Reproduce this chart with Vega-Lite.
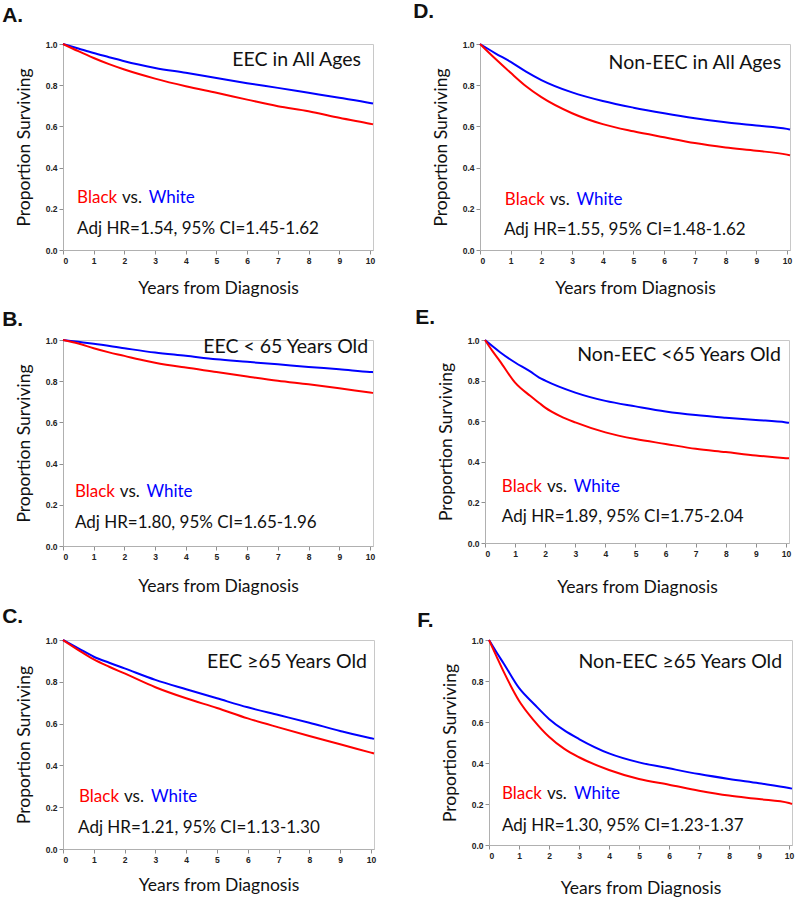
{
  "$schema": "https://vega.github.io/schema/vega-lite/v6.json",
  "padding": {"left": 1, "top": 0, "right": 2, "bottom": 0},
  "datasets": {
    "km": [
      {"panel":"A","group":"White","year":0,"surv":1},{"panel":"A","group":"White","year":0.5,"surv":0.978},{"panel":"A","group":"White","year":1,"surv":0.956},{"panel":"A","group":"White","year":1.5,"surv":0.936},{"panel":"A","group":"White","year":2,"surv":0.916},{"panel":"A","group":"White","year":3,"surv":0.884},{"panel":"A","group":"White","year":4,"surv":0.86},{"panel":"A","group":"White","year":5,"surv":0.835},{"panel":"A","group":"White","year":6,"surv":0.81},{"panel":"A","group":"White","year":7,"surv":0.787},{"panel":"A","group":"White","year":8,"surv":0.763},{"panel":"A","group":"White","year":9,"surv":0.739},{"panel":"A","group":"White","year":10,"surv":0.714},{"panel":"A","group":"White","year":10.1,"surv":0.711},
      {"panel":"A","group":"Black","year":0,"surv":1},{"panel":"A","group":"Black","year":0.5,"surv":0.965},{"panel":"A","group":"Black","year":1,"surv":0.932},{"panel":"A","group":"Black","year":1.5,"surv":0.902},{"panel":"A","group":"Black","year":2,"surv":0.876},{"panel":"A","group":"Black","year":3,"surv":0.832},{"panel":"A","group":"Black","year":4,"surv":0.795},{"panel":"A","group":"Black","year":5,"surv":0.763},{"panel":"A","group":"Black","year":6,"surv":0.73},{"panel":"A","group":"Black","year":7,"surv":0.698},{"panel":"A","group":"Black","year":8,"surv":0.674},{"panel":"A","group":"Black","year":9,"surv":0.642},{"panel":"A","group":"Black","year":10,"surv":0.613},{"panel":"A","group":"Black","year":10.1,"surv":0.61},
      {"panel":"B","group":"White","year":0,"surv":1},{"panel":"B","group":"White","year":0.5,"surv":0.991},{"panel":"B","group":"White","year":1,"surv":0.982},{"panel":"B","group":"White","year":2,"surv":0.96},{"panel":"B","group":"White","year":3,"surv":0.939},{"panel":"B","group":"White","year":4,"surv":0.923},{"panel":"B","group":"White","year":5,"surv":0.906},{"panel":"B","group":"White","year":6,"surv":0.894},{"panel":"B","group":"White","year":7,"surv":0.882},{"panel":"B","group":"White","year":8,"surv":0.869},{"panel":"B","group":"White","year":9,"surv":0.858},{"panel":"B","group":"White","year":10,"surv":0.845},{"panel":"B","group":"White","year":10.1,"surv":0.844},
      {"panel":"B","group":"Black","year":0,"surv":1},{"panel":"B","group":"Black","year":0.5,"surv":0.983},{"panel":"B","group":"Black","year":1,"surv":0.96},{"panel":"B","group":"Black","year":1.5,"surv":0.94},{"panel":"B","group":"Black","year":2,"surv":0.923},{"panel":"B","group":"Black","year":2.5,"surv":0.905},{"panel":"B","group":"Black","year":3,"surv":0.89},{"panel":"B","group":"Black","year":4,"surv":0.866},{"panel":"B","group":"Black","year":5,"surv":0.845},{"panel":"B","group":"Black","year":6,"surv":0.823},{"panel":"B","group":"Black","year":7,"surv":0.802},{"panel":"B","group":"Black","year":8,"surv":0.785},{"panel":"B","group":"Black","year":9,"surv":0.766},{"panel":"B","group":"Black","year":10,"surv":0.745},{"panel":"B","group":"Black","year":10.1,"surv":0.743},
      {"panel":"C","group":"White","year":0,"surv":1},{"panel":"C","group":"White","year":0.5,"surv":0.96},{"panel":"C","group":"White","year":1,"surv":0.92},{"panel":"C","group":"White","year":1.5,"surv":0.891},{"panel":"C","group":"White","year":2,"surv":0.864},{"panel":"C","group":"White","year":3,"surv":0.809},{"panel":"C","group":"White","year":4,"surv":0.764},{"panel":"C","group":"White","year":5,"surv":0.721},{"panel":"C","group":"White","year":6,"surv":0.678},{"panel":"C","group":"White","year":7,"surv":0.641},{"panel":"C","group":"White","year":8,"surv":0.604},{"panel":"C","group":"White","year":9,"surv":0.565},{"panel":"C","group":"White","year":10,"surv":0.53},{"panel":"C","group":"White","year":10.1,"surv":0.527},
      {"panel":"C","group":"Black","year":0,"surv":1},{"panel":"C","group":"Black","year":0.5,"surv":0.952},{"panel":"C","group":"Black","year":1,"surv":0.907},{"panel":"C","group":"Black","year":1.5,"surv":0.872},{"panel":"C","group":"Black","year":2,"surv":0.84},{"panel":"C","group":"Black","year":3,"surv":0.774},{"panel":"C","group":"Black","year":4,"surv":0.721},{"panel":"C","group":"Black","year":5,"surv":0.675},{"panel":"C","group":"Black","year":6,"surv":0.625},{"panel":"C","group":"Black","year":7,"surv":0.582},{"panel":"C","group":"Black","year":8,"surv":0.541},{"panel":"C","group":"Black","year":9,"surv":0.501},{"panel":"C","group":"Black","year":10,"surv":0.461},{"panel":"C","group":"Black","year":10.1,"surv":0.457},
      {"panel":"D","group":"White","year":0,"surv":1},{"panel":"D","group":"White","year":0.5,"surv":0.955},{"panel":"D","group":"White","year":1,"surv":0.913},{"panel":"D","group":"White","year":1.5,"surv":0.866},{"panel":"D","group":"White","year":2,"surv":0.825},{"panel":"D","group":"White","year":3,"surv":0.765},{"panel":"D","group":"White","year":4,"surv":0.723},{"panel":"D","group":"White","year":5,"surv":0.691},{"panel":"D","group":"White","year":6,"surv":0.664},{"panel":"D","group":"White","year":7,"surv":0.64},{"panel":"D","group":"White","year":8,"surv":0.62},{"panel":"D","group":"White","year":9,"surv":0.604},{"panel":"D","group":"White","year":10,"surv":0.588},{"panel":"D","group":"White","year":10.1,"surv":0.585},
      {"panel":"D","group":"Black","year":0,"surv":1},{"panel":"D","group":"Black","year":0.5,"surv":0.928},{"panel":"D","group":"Black","year":1,"surv":0.86},{"panel":"D","group":"Black","year":1.5,"surv":0.795},{"panel":"D","group":"Black","year":2,"surv":0.742},{"panel":"D","group":"Black","year":3,"surv":0.664},{"panel":"D","group":"Black","year":4,"surv":0.611},{"panel":"D","group":"Black","year":5,"surv":0.576},{"panel":"D","group":"Black","year":6,"surv":0.547},{"panel":"D","group":"Black","year":7,"surv":0.519},{"panel":"D","group":"Black","year":8,"surv":0.498},{"panel":"D","group":"Black","year":9,"surv":0.482},{"panel":"D","group":"Black","year":10,"surv":0.463},{"panel":"D","group":"Black","year":10.1,"surv":0.46},
      {"panel":"E","group":"White","year":0,"surv":1},{"panel":"E","group":"White","year":0.5,"surv":0.94},{"panel":"E","group":"White","year":1,"surv":0.889},{"panel":"E","group":"White","year":1.5,"surv":0.845},{"panel":"E","group":"White","year":1.8,"surv":0.815},{"panel":"E","group":"White","year":2,"surv":0.8},{"panel":"E","group":"White","year":3,"surv":0.741},{"panel":"E","group":"White","year":4,"surv":0.7},{"panel":"E","group":"White","year":5,"surv":0.673},{"panel":"E","group":"White","year":6,"surv":0.648},{"panel":"E","group":"White","year":7,"surv":0.63},{"panel":"E","group":"White","year":8,"surv":0.617},{"panel":"E","group":"White","year":9,"surv":0.606},{"panel":"E","group":"White","year":10,"surv":0.594},{"panel":"E","group":"White","year":10.1,"surv":0.592},
      {"panel":"E","group":"Black","year":0,"surv":1},{"panel":"E","group":"Black","year":0.25,"surv":0.945},{"panel":"E","group":"Black","year":0.5,"surv":0.895},{"panel":"E","group":"Black","year":1,"surv":0.79},{"panel":"E","group":"Black","year":1.5,"surv":0.725},{"panel":"E","group":"Black","year":1.8,"surv":0.69},{"panel":"E","group":"Black","year":2,"surv":0.667},{"panel":"E","group":"Black","year":2.5,"surv":0.625},{"panel":"E","group":"Black","year":3,"surv":0.594},{"panel":"E","group":"Black","year":4,"surv":0.545},{"panel":"E","group":"Black","year":5,"surv":0.512},{"panel":"E","group":"Black","year":6,"surv":0.488},{"panel":"E","group":"Black","year":7,"surv":0.464},{"panel":"E","group":"Black","year":8,"surv":0.448},{"panel":"E","group":"Black","year":9,"surv":0.431},{"panel":"E","group":"Black","year":10,"surv":0.418},{"panel":"E","group":"Black","year":10.1,"surv":0.417},
      {"panel":"F","group":"White","year":0,"surv":1},{"panel":"F","group":"White","year":0.25,"surv":0.94},{"panel":"F","group":"White","year":0.5,"surv":0.883},{"panel":"F","group":"White","year":1,"surv":0.766},{"panel":"F","group":"White","year":1.5,"surv":0.688},{"panel":"F","group":"White","year":2,"surv":0.615},{"panel":"F","group":"White","year":2.5,"surv":0.56},{"panel":"F","group":"White","year":3,"surv":0.517},{"panel":"F","group":"White","year":4,"surv":0.447},{"panel":"F","group":"White","year":5,"surv":0.403},{"panel":"F","group":"White","year":6,"surv":0.374},{"panel":"F","group":"White","year":7,"surv":0.346},{"panel":"F","group":"White","year":8,"surv":0.322},{"panel":"F","group":"White","year":9,"surv":0.301},{"panel":"F","group":"White","year":10,"surv":0.278},{"panel":"F","group":"White","year":10.1,"surv":0.275},
      {"panel":"F","group":"Black","year":0,"surv":1},{"panel":"F","group":"Black","year":0.25,"surv":0.92},{"panel":"F","group":"Black","year":0.5,"surv":0.842},{"panel":"F","group":"Black","year":1,"surv":0.704},{"panel":"F","group":"Black","year":1.5,"surv":0.607},{"panel":"F","group":"Black","year":2,"surv":0.528},{"panel":"F","group":"Black","year":2.5,"surv":0.47},{"panel":"F","group":"Black","year":3,"surv":0.428},{"panel":"F","group":"Black","year":4,"surv":0.366},{"panel":"F","group":"Black","year":5,"surv":0.322},{"panel":"F","group":"Black","year":6,"surv":0.294},{"panel":"F","group":"Black","year":7,"surv":0.265},{"panel":"F","group":"Black","year":8,"surv":0.241},{"panel":"F","group":"Black","year":9,"surv":0.224},{"panel":"F","group":"Black","year":10,"surv":0.205},{"panel":"F","group":"Black","year":10.1,"surv":0.2}
    ],
    "notes": [
      {"panel":"A","title":"EEC in All Ages","hr":"Adj HR=1.54, 95% CI=1.45-1.62"},
      {"panel":"B","title":"EEC < 65 Years  Old","hr":"Adj HR=1.80, 95% CI=1.65-1.96"},
      {"panel":"C","title":"EEC ≥65 Years  Old","hr":"Adj HR=1.21, 95% CI=1.13-1.30"},
      {"panel":"D","title":"Non-EEC  in All Ages","hr":"Adj HR=1.55, 95% CI=1.48-1.62"},
      {"panel":"E","title":"Non-EEC <65 Years  Old","hr":"Adj HR=1.89, 95% CI=1.75-2.04"},
      {"panel":"F","title":"Non-EEC ≥65 Years  Old","hr":"Adj HR=1.30, 95% CI=1.23-1.37"}
    ]
  },
  "vconcat": [
    {"hconcat": [
      {"width": 310, "height": 206,
       "title": {"text": "A.", "anchor": "start", "frame": "bounds", "dx": -13, "offset": 14},
       "layer": [
        {"data": {"name": "km"}, "transform": [{"filter": "datum.panel === 'A'"}],
         "mark": {"type": "line", "strokeWidth": 2, "interpolate": "monotone"},
         "encoding": {
           "x": {"field": "year", "type": "quantitative", "scale": {"domain": [0, 10.1], "nice": false}, "axis": {"title": "Years from Diagnosis", "values": [0,1,2,3,4,5,6,7,8,9,10], "format": "d", "labelOverlap": false, "titlePadding": 15}},
           "y": {"field": "surv", "type": "quantitative", "scale": {"domain": [0, 1], "nice": false}, "axis": {"title": "Proportion Surviving", "values": [0,0.2,0.4,0.6,0.8,1], "format": ".1f", "labelOverlap": false}},
           "color": {"field": "group", "type": "nominal", "scale": {"domain": ["Black","White"], "range": ["#ff0000","#0000ff"]}, "legend": null}}},
        {"data": {"name": "notes"}, "transform": [{"filter": "datum.panel === 'A'"}],
         "mark": {"type": "text", "align": "right", "baseline": "alphabetic", "fontSize": 19.5, "font": "Lato", "color": "#111"},
         "encoding": {"x": {"datum": 9.71, "type": "quantitative", "axis": {"title": "Years from Diagnosis", "values": [0,1,2,3,4,5,6,7,8,9,10], "format": "d", "labelOverlap": false, "titlePadding": 15}}, "y": {"datum": 0.893, "type": "quantitative", "axis": {"title": "Proportion Surviving", "values": [0,0.2,0.4,0.6,0.8,1], "format": ".1f", "labelOverlap": false}}, "text": {"field": "title"}}},
        {"data": {"name": "notes"}, "transform": [{"filter": "datum.panel === 'A'"}],
         "mark": {"type": "text", "align": "left", "baseline": "alphabetic", "fontSize": 17, "font": "Lato", "color": "#111"},
         "encoding": {"x": {"datum": 0.46, "type": "quantitative", "axis": {"title": "Years from Diagnosis", "values": [0,1,2,3,4,5,6,7,8,9,10], "format": "d", "labelOverlap": false, "titlePadding": 15}}, "y": {"datum": 0.078, "type": "quantitative", "axis": {"title": "Proportion Surviving", "values": [0,0.2,0.4,0.6,0.8,1], "format": ".1f", "labelOverlap": false}}, "text": {"field": "hr"}}},
        {"data": {"name": "notes"}, "transform": [{"filter": "datum.panel === 'A'"}],
         "mark": {"type": "text", "align": "left", "baseline": "alphabetic", "fontSize": 17, "font": "Lato", "color": "#ff0000", "text": "Black"},
         "encoding": {"x": {"datum": 0.46, "type": "quantitative", "axis": {"title": "Years from Diagnosis", "values": [0,1,2,3,4,5,6,7,8,9,10], "format": "d", "labelOverlap": false, "titlePadding": 15}}, "y": {"datum": 0.228, "type": "quantitative", "axis": {"title": "Proportion Surviving", "values": [0,0.2,0.4,0.6,0.8,1], "format": ".1f", "labelOverlap": false}}}},
        {"data": {"name": "notes"}, "transform": [{"filter": "datum.panel === 'A'"}],
         "mark": {"type": "text", "align": "left", "baseline": "alphabetic", "fontSize": 17, "font": "Lato", "color": "#111", "text": "vs."},
         "encoding": {"x": {"datum": 1.92, "type": "quantitative", "axis": {"title": "Years from Diagnosis", "values": [0,1,2,3,4,5,6,7,8,9,10], "format": "d", "labelOverlap": false, "titlePadding": 15}}, "y": {"datum": 0.228, "type": "quantitative", "axis": {"title": "Proportion Surviving", "values": [0,0.2,0.4,0.6,0.8,1], "format": ".1f", "labelOverlap": false}}}},
        {"data": {"name": "notes"}, "transform": [{"filter": "datum.panel === 'A'"}],
         "mark": {"type": "text", "align": "left", "baseline": "alphabetic", "fontSize": 17, "font": "Lato", "color": "#0000ff", "text": "White"},
         "encoding": {"x": {"datum": 2.79, "type": "quantitative", "axis": {"title": "Years from Diagnosis", "values": [0,1,2,3,4,5,6,7,8,9,10], "format": "d", "labelOverlap": false, "titlePadding": 15}}, "y": {"datum": 0.228, "type": "quantitative", "axis": {"title": "Proportion Surviving", "values": [0,0.2,0.4,0.6,0.8,1], "format": ".1f", "labelOverlap": false}}}}
       ]},
      {"width": 310, "height": 206,
       "title": {"text": "D.", "anchor": "start", "frame": "bounds", "dx": -19, "offset": 18},
       "layer": [
        {"data": {"name": "km"}, "transform": [{"filter": "datum.panel === 'D'"}],
         "mark": {"type": "line", "strokeWidth": 2, "interpolate": "monotone"},
         "encoding": {
           "x": {"field": "year", "type": "quantitative", "scale": {"domain": [0, 10.1], "nice": false}, "axis": {"title": "Years from Diagnosis", "values": [0,1,2,3,4,5,6,7,8,9,10], "format": "d", "labelOverlap": false, "titlePadding": 15}},
           "y": {"field": "surv", "type": "quantitative", "scale": {"domain": [0, 1], "nice": false}, "axis": {"title": "Proportion Surviving", "values": [0,0.2,0.4,0.6,0.8,1], "format": ".1f", "labelOverlap": false}},
           "color": {"field": "group", "type": "nominal", "scale": {"domain": ["Black","White"], "range": ["#ff0000","#0000ff"]}, "legend": null}}},
        {"data": {"name": "notes"}, "transform": [{"filter": "datum.panel === 'D'"}],
         "mark": {"type": "text", "align": "right", "baseline": "alphabetic", "fontSize": 19.5, "font": "Lato", "color": "#111"},
         "encoding": {"x": {"datum": 9.81, "type": "quantitative", "axis": {"title": "Years from Diagnosis", "values": [0,1,2,3,4,5,6,7,8,9,10], "format": "d", "labelOverlap": false, "titlePadding": 15}}, "y": {"datum": 0.88, "type": "quantitative", "axis": {"title": "Proportion Surviving", "values": [0,0.2,0.4,0.6,0.8,1], "format": ".1f", "labelOverlap": false}}, "text": {"field": "title"}}},
        {"data": {"name": "notes"}, "transform": [{"filter": "datum.panel === 'D'"}],
         "mark": {"type": "text", "align": "left", "baseline": "alphabetic", "fontSize": 17, "font": "Lato", "color": "#111"},
         "encoding": {"x": {"datum": 0.78, "type": "quantitative", "axis": {"title": "Years from Diagnosis", "values": [0,1,2,3,4,5,6,7,8,9,10], "format": "d", "labelOverlap": false, "titlePadding": 15}}, "y": {"datum": 0.072, "type": "quantitative", "axis": {"title": "Proportion Surviving", "values": [0,0.2,0.4,0.6,0.8,1], "format": ".1f", "labelOverlap": false}}, "text": {"field": "hr"}}},
        {"data": {"name": "notes"}, "transform": [{"filter": "datum.panel === 'D'"}],
         "mark": {"type": "text", "align": "left", "baseline": "alphabetic", "fontSize": 17, "font": "Lato", "color": "#ff0000", "text": "Black"},
         "encoding": {"x": {"datum": 0.81, "type": "quantitative", "axis": {"title": "Years from Diagnosis", "values": [0,1,2,3,4,5,6,7,8,9,10], "format": "d", "labelOverlap": false, "titlePadding": 15}}, "y": {"datum": 0.217, "type": "quantitative", "axis": {"title": "Proportion Surviving", "values": [0,0.2,0.4,0.6,0.8,1], "format": ".1f", "labelOverlap": false}}}},
        {"data": {"name": "notes"}, "transform": [{"filter": "datum.panel === 'D'"}],
         "mark": {"type": "text", "align": "left", "baseline": "alphabetic", "fontSize": 17, "font": "Lato", "color": "#111", "text": "vs."},
         "encoding": {"x": {"datum": 2.27, "type": "quantitative", "axis": {"title": "Years from Diagnosis", "values": [0,1,2,3,4,5,6,7,8,9,10], "format": "d", "labelOverlap": false, "titlePadding": 15}}, "y": {"datum": 0.217, "type": "quantitative", "axis": {"title": "Proportion Surviving", "values": [0,0.2,0.4,0.6,0.8,1], "format": ".1f", "labelOverlap": false}}}},
        {"data": {"name": "notes"}, "transform": [{"filter": "datum.panel === 'D'"}],
         "mark": {"type": "text", "align": "left", "baseline": "alphabetic", "fontSize": 17, "font": "Lato", "color": "#0000ff", "text": "White"},
         "encoding": {"x": {"datum": 3.14, "type": "quantitative", "axis": {"title": "Years from Diagnosis", "values": [0,1,2,3,4,5,6,7,8,9,10], "format": "d", "labelOverlap": false, "titlePadding": 15}}, "y": {"datum": 0.217, "type": "quantitative", "axis": {"title": "Proportion Surviving", "values": [0,0.2,0.4,0.6,0.8,1], "format": ".1f", "labelOverlap": false}}}}
       ]}
    ], "spacing": 34},
    {"hconcat": [
      {"width": 310, "height": 206,
       "title": {"text": "B.", "anchor": "start", "frame": "bounds", "dx": -13, "offset": 6},
       "layer": [
        {"data": {"name": "km"}, "transform": [{"filter": "datum.panel === 'B'"}],
         "mark": {"type": "line", "strokeWidth": 2, "interpolate": "monotone"},
         "encoding": {
           "x": {"field": "year", "type": "quantitative", "scale": {"domain": [0, 10.1], "nice": false}, "axis": {"title": "Years from Diagnosis", "values": [0,1,2,3,4,5,6,7,8,9,10], "format": "d", "labelOverlap": false, "titlePadding": 17}},
           "y": {"field": "surv", "type": "quantitative", "scale": {"domain": [0, 1], "nice": false}, "axis": {"title": "Proportion Surviving", "values": [0,0.2,0.4,0.6,0.8,1], "format": ".1f", "labelOverlap": false}},
           "color": {"field": "group", "type": "nominal", "scale": {"domain": ["Black","White"], "range": ["#ff0000","#0000ff"]}, "legend": null}}},
        {"data": {"name": "notes"}, "transform": [{"filter": "datum.panel === 'B'"}],
         "mark": {"type": "text", "align": "right", "baseline": "alphabetic", "fontSize": 19.5, "font": "Lato", "color": "#111"},
         "encoding": {"x": {"datum": 9.94, "type": "quantitative", "axis": {"title": "Years from Diagnosis", "values": [0,1,2,3,4,5,6,7,8,9,10], "format": "d", "labelOverlap": false, "titlePadding": 17}}, "y": {"datum": 0.937, "type": "quantitative", "axis": {"title": "Proportion Surviving", "values": [0,0.2,0.4,0.6,0.8,1], "format": ".1f", "labelOverlap": false}}, "text": {"field": "title"}}},
        {"data": {"name": "notes"}, "transform": [{"filter": "datum.panel === 'B'"}],
         "mark": {"type": "text", "align": "left", "baseline": "alphabetic", "fontSize": 17, "font": "Lato", "color": "#111"},
         "encoding": {"x": {"datum": 0.39, "type": "quantitative", "axis": {"title": "Years from Diagnosis", "values": [0,1,2,3,4,5,6,7,8,9,10], "format": "d", "labelOverlap": false, "titlePadding": 17}}, "y": {"datum": 0.086, "type": "quantitative", "axis": {"title": "Proportion Surviving", "values": [0,0.2,0.4,0.6,0.8,1], "format": ".1f", "labelOverlap": false}}, "text": {"field": "hr"}}},
        {"data": {"name": "notes"}, "transform": [{"filter": "datum.panel === 'B'"}],
         "mark": {"type": "text", "align": "left", "baseline": "alphabetic", "fontSize": 17, "font": "Lato", "color": "#ff0000", "text": "Black"},
         "encoding": {"x": {"datum": 0.39, "type": "quantitative", "axis": {"title": "Years from Diagnosis", "values": [0,1,2,3,4,5,6,7,8,9,10], "format": "d", "labelOverlap": false, "titlePadding": 17}}, "y": {"datum": 0.236, "type": "quantitative", "axis": {"title": "Proportion Surviving", "values": [0,0.2,0.4,0.6,0.8,1], "format": ".1f", "labelOverlap": false}}}},
        {"data": {"name": "notes"}, "transform": [{"filter": "datum.panel === 'B'"}],
         "mark": {"type": "text", "align": "left", "baseline": "alphabetic", "fontSize": 17, "font": "Lato", "color": "#111", "text": "vs."},
         "encoding": {"x": {"datum": 1.85, "type": "quantitative", "axis": {"title": "Years from Diagnosis", "values": [0,1,2,3,4,5,6,7,8,9,10], "format": "d", "labelOverlap": false, "titlePadding": 17}}, "y": {"datum": 0.236, "type": "quantitative", "axis": {"title": "Proportion Surviving", "values": [0,0.2,0.4,0.6,0.8,1], "format": ".1f", "labelOverlap": false}}}},
        {"data": {"name": "notes"}, "transform": [{"filter": "datum.panel === 'B'"}],
         "mark": {"type": "text", "align": "left", "baseline": "alphabetic", "fontSize": 17, "font": "Lato", "color": "#0000ff", "text": "White"},
         "encoding": {"x": {"datum": 2.72, "type": "quantitative", "axis": {"title": "Years from Diagnosis", "values": [0,1,2,3,4,5,6,7,8,9,10], "format": "d", "labelOverlap": false, "titlePadding": 17}}, "y": {"datum": 0.236, "type": "quantitative", "axis": {"title": "Proportion Surviving", "values": [0,0.2,0.4,0.6,0.8,1], "format": ".1f", "labelOverlap": false}}}}
       ]},
      {"width": 304, "height": 203,
       "title": {"text": "E.", "anchor": "start", "frame": "bounds", "dx": -22, "offset": 8},
       "layer": [
        {"data": {"name": "km"}, "transform": [{"filter": "datum.panel === 'E'"}],
         "mark": {"type": "line", "strokeWidth": 2, "interpolate": "monotone"},
         "encoding": {
           "x": {"field": "year", "type": "quantitative", "scale": {"domain": [0, 10.1], "nice": false}, "axis": {"title": "Years from Diagnosis", "values": [0,1,2,3,4,5,6,7,8,9,10], "format": "d", "labelOverlap": false, "titlePadding": 21}},
           "y": {"field": "surv", "type": "quantitative", "scale": {"domain": [0, 1], "nice": false}, "axis": {"title": "Proportion Surviving", "values": [0,0.2,0.4,0.6,0.8,1], "format": ".1f", "labelOverlap": false}},
           "color": {"field": "group", "type": "nominal", "scale": {"domain": ["Black","White"], "range": ["#ff0000","#0000ff"]}, "legend": null}}},
        {"data": {"name": "notes"}, "transform": [{"filter": "datum.panel === 'E'"}],
         "mark": {"type": "text", "align": "right", "baseline": "alphabetic", "fontSize": 19.5, "font": "Lato", "color": "#111"},
         "encoding": {"x": {"datum": 9.83, "type": "quantitative", "axis": {"title": "Years from Diagnosis", "values": [0,1,2,3,4,5,6,7,8,9,10], "format": "d", "labelOverlap": false, "titlePadding": 21}}, "y": {"datum": 0.897, "type": "quantitative", "axis": {"title": "Proportion Surviving", "values": [0,0.2,0.4,0.6,0.8,1], "format": ".1f", "labelOverlap": false}}, "text": {"field": "title"}}},
        {"data": {"name": "notes"}, "transform": [{"filter": "datum.panel === 'E'"}],
         "mark": {"type": "text", "align": "left", "baseline": "alphabetic", "fontSize": 17, "font": "Lato", "color": "#111"},
         "encoding": {"x": {"datum": 0.56, "type": "quantitative", "axis": {"title": "Years from Diagnosis", "values": [0,1,2,3,4,5,6,7,8,9,10], "format": "d", "labelOverlap": false, "titlePadding": 21}}, "y": {"datum": 0.103, "type": "quantitative", "axis": {"title": "Proportion Surviving", "values": [0,0.2,0.4,0.6,0.8,1], "format": ".1f", "labelOverlap": false}}, "text": {"field": "hr"}}},
        {"data": {"name": "notes"}, "transform": [{"filter": "datum.panel === 'E'"}],
         "mark": {"type": "text", "align": "left", "baseline": "alphabetic", "fontSize": 17, "font": "Lato", "color": "#ff0000", "text": "Black"},
         "encoding": {"x": {"datum": 0.56, "type": "quantitative", "axis": {"title": "Years from Diagnosis", "values": [0,1,2,3,4,5,6,7,8,9,10], "format": "d", "labelOverlap": false, "titlePadding": 21}}, "y": {"datum": 0.25, "type": "quantitative", "axis": {"title": "Proportion Surviving", "values": [0,0.2,0.4,0.6,0.8,1], "format": ".1f", "labelOverlap": false}}}},
        {"data": {"name": "notes"}, "transform": [{"filter": "datum.panel === 'E'"}],
         "mark": {"type": "text", "align": "left", "baseline": "alphabetic", "fontSize": 17, "font": "Lato", "color": "#111", "text": "vs."},
         "encoding": {"x": {"datum": 2.06, "type": "quantitative", "axis": {"title": "Years from Diagnosis", "values": [0,1,2,3,4,5,6,7,8,9,10], "format": "d", "labelOverlap": false, "titlePadding": 21}}, "y": {"datum": 0.25, "type": "quantitative", "axis": {"title": "Proportion Surviving", "values": [0,0.2,0.4,0.6,0.8,1], "format": ".1f", "labelOverlap": false}}}},
        {"data": {"name": "notes"}, "transform": [{"filter": "datum.panel === 'E'"}],
         "mark": {"type": "text", "align": "left", "baseline": "alphabetic", "fontSize": 17, "font": "Lato", "color": "#0000ff", "text": "White"},
         "encoding": {"x": {"datum": 2.95, "type": "quantitative", "axis": {"title": "Years from Diagnosis", "values": [0,1,2,3,4,5,6,7,8,9,10], "format": "d", "labelOverlap": false, "titlePadding": 21}}, "y": {"datum": 0.25, "type": "quantitative", "axis": {"title": "Proportion Surviving", "values": [0,0.2,0.4,0.6,0.8,1], "format": ".1f", "labelOverlap": false}}}}
       ]}
    ], "spacing": 36},
    {"hconcat": [
      {"width": 311, "height": 209,
       "title": {"text": "C.", "anchor": "start", "frame": "bounds", "dx": -13, "offset": 9},
       "layer": [
        {"data": {"name": "km"}, "transform": [{"filter": "datum.panel === 'C'"}],
         "mark": {"type": "line", "strokeWidth": 2, "interpolate": "monotone"},
         "encoding": {
           "x": {"field": "year", "type": "quantitative", "scale": {"domain": [0, 10.1], "nice": false}, "axis": {"title": "Years from Diagnosis", "values": [0,1,2,3,4,5,6,7,8,9,10], "format": "d", "labelOverlap": false, "titlePadding": 13}},
           "y": {"field": "surv", "type": "quantitative", "scale": {"domain": [0, 1], "nice": false}, "axis": {"title": "Proportion Surviving", "values": [0,0.2,0.4,0.6,0.8,1], "format": ".1f", "labelOverlap": false}},
           "color": {"field": "group", "type": "nominal", "scale": {"domain": ["Black","White"], "range": ["#ff0000","#0000ff"]}, "legend": null}}},
        {"data": {"name": "notes"}, "transform": [{"filter": "datum.panel === 'C'"}],
         "mark": {"type": "text", "align": "right", "baseline": "alphabetic", "fontSize": 19.5, "font": "Lato", "color": "#111"},
         "encoding": {"x": {"datum": 9.87, "type": "quantitative", "axis": {"title": "Years from Diagnosis", "values": [0,1,2,3,4,5,6,7,8,9,10], "format": "d", "labelOverlap": false, "titlePadding": 13}}, "y": {"datum": 0.866, "type": "quantitative", "axis": {"title": "Proportion Surviving", "values": [0,0.2,0.4,0.6,0.8,1], "format": ".1f", "labelOverlap": false}}, "text": {"field": "title"}}},
        {"data": {"name": "notes"}, "transform": [{"filter": "datum.panel === 'C'"}],
         "mark": {"type": "text", "align": "left", "baseline": "alphabetic", "fontSize": 17, "font": "Lato", "color": "#111"},
         "encoding": {"x": {"datum": 0.49, "type": "quantitative", "axis": {"title": "Years from Diagnosis", "values": [0,1,2,3,4,5,6,7,8,9,10], "format": "d", "labelOverlap": false, "titlePadding": 13}}, "y": {"datum": 0.077, "type": "quantitative", "axis": {"title": "Proportion Surviving", "values": [0,0.2,0.4,0.6,0.8,1], "format": ".1f", "labelOverlap": false}}, "text": {"field": "hr"}}},
        {"data": {"name": "notes"}, "transform": [{"filter": "datum.panel === 'C'"}],
         "mark": {"type": "text", "align": "left", "baseline": "alphabetic", "fontSize": 17, "font": "Lato", "color": "#ff0000", "text": "Black"},
         "encoding": {"x": {"datum": 0.52, "type": "quantitative", "axis": {"title": "Years from Diagnosis", "values": [0,1,2,3,4,5,6,7,8,9,10], "format": "d", "labelOverlap": false, "titlePadding": 13}}, "y": {"datum": 0.225, "type": "quantitative", "axis": {"title": "Proportion Surviving", "values": [0,0.2,0.4,0.6,0.8,1], "format": ".1f", "labelOverlap": false}}}},
        {"data": {"name": "notes"}, "transform": [{"filter": "datum.panel === 'C'"}],
         "mark": {"type": "text", "align": "left", "baseline": "alphabetic", "fontSize": 17, "font": "Lato", "color": "#111", "text": "vs."},
         "encoding": {"x": {"datum": 1.98, "type": "quantitative", "axis": {"title": "Years from Diagnosis", "values": [0,1,2,3,4,5,6,7,8,9,10], "format": "d", "labelOverlap": false, "titlePadding": 13}}, "y": {"datum": 0.225, "type": "quantitative", "axis": {"title": "Proportion Surviving", "values": [0,0.2,0.4,0.6,0.8,1], "format": ".1f", "labelOverlap": false}}}},
        {"data": {"name": "notes"}, "transform": [{"filter": "datum.panel === 'C'"}],
         "mark": {"type": "text", "align": "left", "baseline": "alphabetic", "fontSize": 17, "font": "Lato", "color": "#0000ff", "text": "White"},
         "encoding": {"x": {"datum": 2.86, "type": "quantitative", "axis": {"title": "Years from Diagnosis", "values": [0,1,2,3,4,5,6,7,8,9,10], "format": "d", "labelOverlap": false, "titlePadding": 13}}, "y": {"datum": 0.225, "type": "quantitative", "axis": {"title": "Proportion Surviving", "values": [0,0.2,0.4,0.6,0.8,1], "format": ".1f", "labelOverlap": false}}}}
       ]},
      {"width": 303, "height": 205,
       "title": {"text": "F.", "anchor": "start", "frame": "bounds", "dx": -24, "offset": 5},
       "layer": [
        {"data": {"name": "km"}, "transform": [{"filter": "datum.panel === 'F'"}],
         "mark": {"type": "line", "strokeWidth": 2, "interpolate": "monotone"},
         "encoding": {
           "x": {"field": "year", "type": "quantitative", "scale": {"domain": [0, 10.1], "nice": false}, "axis": {"title": "Years from Diagnosis", "values": [0,1,2,3,4,5,6,7,8,9,10], "format": "d", "labelOverlap": false, "titlePadding": 20}},
           "y": {"field": "surv", "type": "quantitative", "scale": {"domain": [0, 1], "nice": false}, "axis": {"title": "Proportion Surviving", "values": [0,0.2,0.4,0.6,0.8,1], "format": ".1f", "labelOverlap": false}},
           "color": {"field": "group", "type": "nominal", "scale": {"domain": ["Black","White"], "range": ["#ff0000","#0000ff"]}, "legend": null}}},
        {"data": {"name": "notes"}, "transform": [{"filter": "datum.panel === 'F'"}],
         "mark": {"type": "text", "align": "right", "baseline": "alphabetic", "fontSize": 19.5, "font": "Lato", "color": "#111"},
         "encoding": {"x": {"datum": 9.77, "type": "quantitative", "axis": {"title": "Years from Diagnosis", "values": [0,1,2,3,4,5,6,7,8,9,10], "format": "d", "labelOverlap": false, "titlePadding": 20}}, "y": {"datum": 0.863, "type": "quantitative", "axis": {"title": "Proportion Surviving", "values": [0,0.2,0.4,0.6,0.8,1], "format": ".1f", "labelOverlap": false}}, "text": {"field": "title"}}},
        {"data": {"name": "notes"}, "transform": [{"filter": "datum.panel === 'F'"}],
         "mark": {"type": "text", "align": "left", "baseline": "alphabetic", "fontSize": 17, "font": "Lato", "color": "#111"},
         "encoding": {"x": {"datum": 0.43, "type": "quantitative", "axis": {"title": "Years from Diagnosis", "values": [0,1,2,3,4,5,6,7,8,9,10], "format": "d", "labelOverlap": false, "titlePadding": 20}}, "y": {"datum": 0.068, "type": "quantitative", "axis": {"title": "Proportion Surviving", "values": [0,0.2,0.4,0.6,0.8,1], "format": ".1f", "labelOverlap": false}}, "text": {"field": "hr"}}},
        {"data": {"name": "notes"}, "transform": [{"filter": "datum.panel === 'F'"}],
         "mark": {"type": "text", "align": "left", "baseline": "alphabetic", "fontSize": 17, "font": "Lato", "color": "#ff0000", "text": "Black"},
         "encoding": {"x": {"datum": 0.43, "type": "quantitative", "axis": {"title": "Years from Diagnosis", "values": [0,1,2,3,4,5,6,7,8,9,10], "format": "d", "labelOverlap": false, "titlePadding": 20}}, "y": {"datum": 0.224, "type": "quantitative", "axis": {"title": "Proportion Surviving", "values": [0,0.2,0.4,0.6,0.8,1], "format": ".1f", "labelOverlap": false}}}},
        {"data": {"name": "notes"}, "transform": [{"filter": "datum.panel === 'F'"}],
         "mark": {"type": "text", "align": "left", "baseline": "alphabetic", "fontSize": 17, "font": "Lato", "color": "#111", "text": "vs."},
         "encoding": {"x": {"datum": 1.93, "type": "quantitative", "axis": {"title": "Years from Diagnosis", "values": [0,1,2,3,4,5,6,7,8,9,10], "format": "d", "labelOverlap": false, "titlePadding": 20}}, "y": {"datum": 0.224, "type": "quantitative", "axis": {"title": "Proportion Surviving", "values": [0,0.2,0.4,0.6,0.8,1], "format": ".1f", "labelOverlap": false}}}},
        {"data": {"name": "notes"}, "transform": [{"filter": "datum.panel === 'F'"}],
         "mark": {"type": "text", "align": "left", "baseline": "alphabetic", "fontSize": 17, "font": "Lato", "color": "#0000ff", "text": "White"},
         "encoding": {"x": {"datum": 2.83, "type": "quantitative", "axis": {"title": "Years from Diagnosis", "values": [0,1,2,3,4,5,6,7,8,9,10], "format": "d", "labelOverlap": false, "titlePadding": 20}}, "y": {"datum": 0.224, "type": "quantitative", "axis": {"title": "Proportion Surviving", "values": [0,0.2,0.4,0.6,0.8,1], "format": ".1f", "labelOverlap": false}}}}
       ]}
    ], "spacing": 37}
  ],
  "spacing": 8,
  "config": {
    "background": "white",
    "view": {"stroke": "#c8c8c8", "strokeWidth": 1},
    "title": {"font": "Liberation Sans", "fontSize": 21, "fontWeight": "bold", "color": "#111"},
    "axis": {
      "grid": false,
      "domainColor": "#b0b0b0",
      "tickColor": "#909090",
      "tickSize": 4,
      "labelOverlap": false,
      "labelFont": "Liberation Sans",
      "labelFontWeight": "bold",
      "labelFontSize": 8.5,
      "labelColor": "#222",
      "labelPadding": 2,
      "titleFont": "Lato",
      "titleFontSize": 17.5,
      "titleFontWeight": "normal",
      "titleColor": "#111",
      "titlePadding": 12
    }
  }
}
